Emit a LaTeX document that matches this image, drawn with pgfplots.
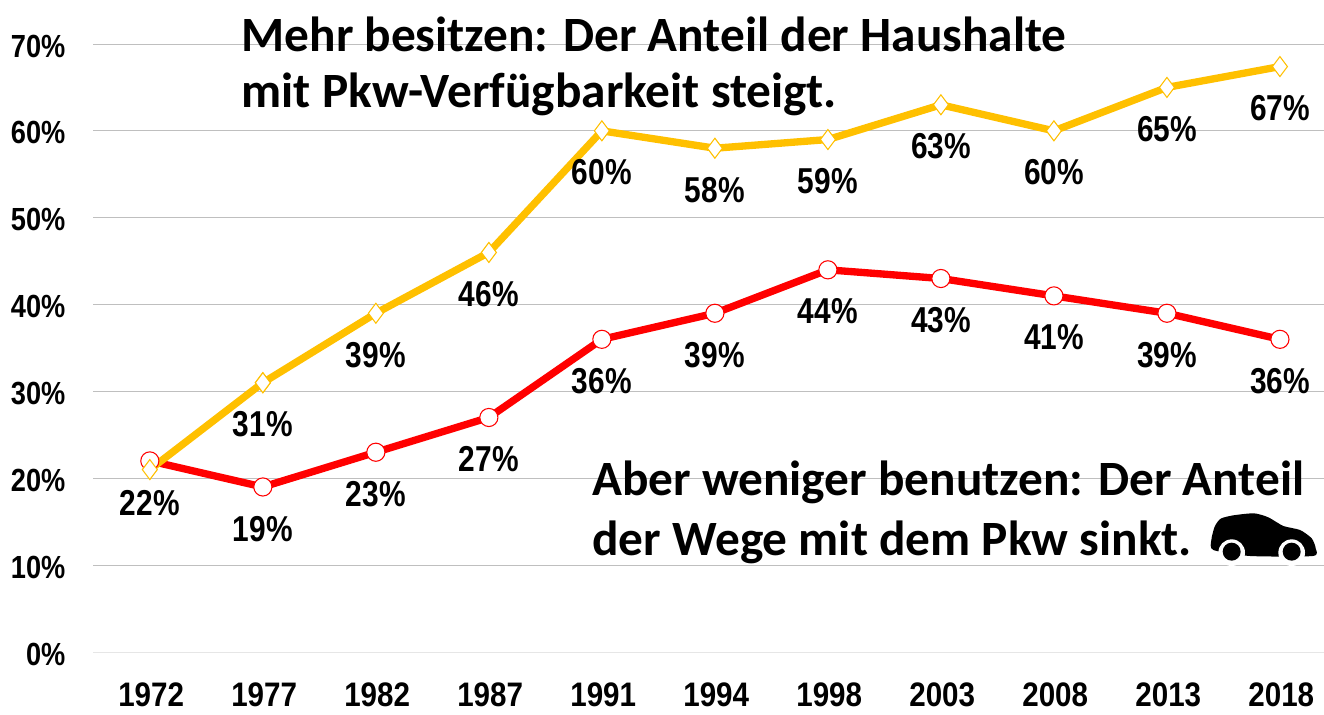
\documentclass[border=0pt]{standalone}
\usepackage{pgfplots}
\pgfplotsset{compat=1.18}
\usepackage{fontspec}
\setmainfont{Liberation Sans}
\newfontfamily\titlefont{Carlito}
\definecolor{gold}{HTML}{FFC000}
\definecolor{grid}{HTML}{E6E6E6}
\begin{document}
\begin{tikzpicture}[x=1pt,y=1pt]
\path[use as bounding box] (0,0) rectangle (993,535.5);
\begin{axis}[
  at={(70pt,46.5pt)},anchor=south west,
  width=923pt,height=456pt,scale only axis,
  xmin=-0.5,xmax=10.39,ymin=0,ymax=70,
  axis x line*=bottom,axis y line*=left,
  axis line style={draw=none},
  x axis line style={draw=grid},
  major tick length=0pt,
  ymajorgrids,xmajorgrids=false,grid style={grid,line width=0.7pt},
  xtick={0,...,10},
  xticklabels={1972,1977,1982,1987,1991,1994,1998,2003,2008,2013,2018},
  ytick={0,10,...,70},
  yticklabel={\pgfmathprintnumber{\tick}\%},
  /pgf/number format/assume math mode=true,
  xticklabel style={font=\fontsize{25.5}{27}\selectfont\bfseries,inner sep=0pt,yshift=-23pt,xshift=1pt,xscale=0.87},
  yticklabel style={font=\fontsize{24}{26}\selectfont\bfseries,xshift=-18pt,yshift=-1.5pt,xscale=0.85},
  clip=false,
]
\addplot[red,line width=5.5pt,mark=*,mark size=6.8pt,
  mark options={fill=white,draw=red,line width=0.8pt},
  nodes near coords={\pgfmathprintnumber{\pgfplotspointmeta}\%},
  nodes near coords align={below},
  every node near coord/.append style={yshift=-18pt,font=\fontsize{27}{29}\selectfont\bfseries,xscale=0.83,text=black,/pgf/number format/assume math mode=true},
  point meta=explicit]
 coordinates {(0,22)[22] (1,19)[19] (2,23)[23] (3,27)[27] (4,36)[36] (5,39)[39] (6,44)[44] (7,43)[43] (8,41)[41] (9,39)[39] (10,36)[36]};
\addplot[gold,line width=5.5pt,mark=diamond*,mark size=7.5pt,
  mark options={fill=white,draw=gold,line width=0.8pt},
  nodes near coords={\pgfmathprintnumber{\pgfplotspointmeta}\%},
  nodes near coords align={below},
  every node near coord/.append style={yshift=-18pt,font=\fontsize{27}{29}\selectfont\bfseries,xscale=0.83,text=black,/pgf/number format/assume math mode=true},
  point meta=explicit]
 coordinates {(1,31)[31] (2,39)[39] (3,46)[46] (4,60)[60] (5,58)[58] (6,59)[59] (7,63)[63] (8,60)[60] (9,65)[65] (10,67.4)[67]};
\addplot[gold,line width=5.5pt,mark=diamond*,mark size=7.5pt,
  mark options={fill=white,draw=gold,line width=0.8pt}]
 coordinates {(0,21) (1,31)};
\end{axis}
\node[anchor=west,inner sep=0pt,font=\titlefont\fontsize{37}{39}\selectfont\bfseries] at (181,510) {Mehr besitzen: Der Anteil der Haushalte};
\node[anchor=west,inner sep=0pt,font=\titlefont\fontsize{37}{39}\selectfont\bfseries] at (181,465) {mit Pkw-Verfügbarkeit steigt.};
\node[anchor=west,inner sep=0pt,font=\titlefont\fontsize{37}{39}\selectfont\bfseries] at (444,174) {Aber weniger benutzen: Der Anteil};
\node[anchor=west,inner sep=0pt,font=\titlefont\fontsize{37}{39}\selectfont\bfseries] at (444,129) {der Wege mit dem Pkw sinkt.};
% car icon
\begin{scope}[shift={(862.5,175.5)},x=0.25pt,y=-0.25pt]
\fill[black] plot[smooth cycle,tension=0.4] coordinates {(190,210) (184,180) (194,140) (212,116) (250,106) (312,100) (355,112) (400,138) (450,150) (485,175) (497,205) (488,228) (300,228)};
\fill[white] (245,218) circle (40);
\fill[white] (425,218) circle (40);
\fill[black] (245,215) circle (27);
\fill[black] (425,215) circle (27);
\end{scope}
\end{tikzpicture}
\end{document}
